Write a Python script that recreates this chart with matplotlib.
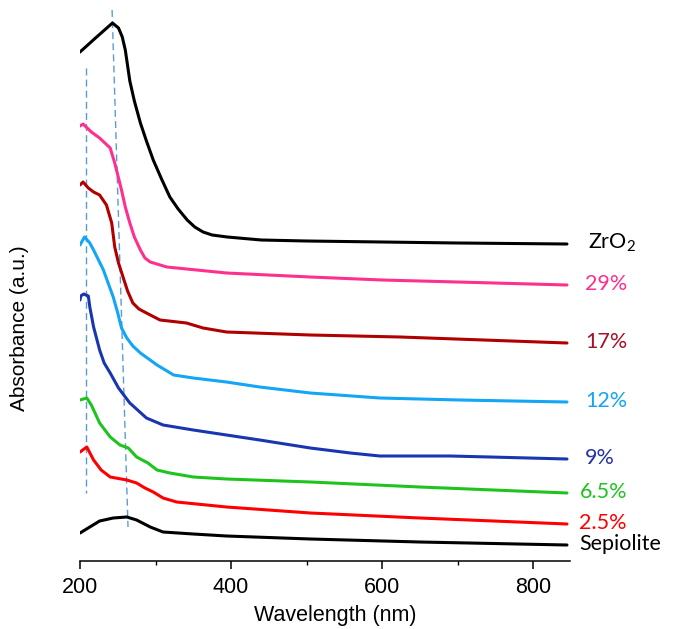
import matplotlib
matplotlib.use("Agg")
import matplotlib.pyplot as plt
import numpy as np

# Espectros (longitud de onda en nm, absorbancia en u.a.)
x_zro2 = [200, 222, 243, 251, 256, 260, 266, 272, 280, 288, 297, 308, 319, 330, 342, 352, 363, 375, 395, 440, 500, 600, 700, 845]
y_zro2 = [5.09, 5.24, 5.38, 5.33, 5.24, 5.11, 4.80, 4.60, 4.38, 4.20, 4.01, 3.82, 3.64, 3.52, 3.41, 3.34, 3.29, 3.26, 3.24, 3.21, 3.20, 3.19, 3.18, 3.17]

x_29 = [200, 204, 215, 226, 240, 246, 250, 255, 260, 266, 272, 280, 286, 293, 315, 394, 505, 600, 700, 845]
y_29 = [4.35, 4.37, 4.29, 4.23, 4.13, 3.98, 3.86, 3.71, 3.54, 3.38, 3.24, 3.11, 3.03, 2.99, 2.94, 2.88, 2.84, 2.81, 2.79, 2.76]

x_17 = [200, 204, 211, 218, 226, 235, 242, 246, 251, 257, 263, 270, 278, 288, 306, 341, 363, 394, 505, 624, 845]
y_17 = [3.76, 3.79, 3.73, 3.69, 3.66, 3.56, 3.38, 3.14, 2.98, 2.84, 2.70, 2.58, 2.52, 2.48, 2.41, 2.38, 2.33, 2.29, 2.26, 2.24, 2.18]

x_12 = [200, 206, 213, 218, 231, 244, 250, 255, 262, 270, 280, 302, 324, 350, 394, 438, 505, 597, 703, 845]
y_12 = [3.16, 3.24, 3.18, 3.11, 2.91, 2.64, 2.48, 2.33, 2.23, 2.15, 2.08, 1.96, 1.86, 1.83, 1.79, 1.74, 1.68, 1.63, 1.61, 1.59]

x_9 = [200, 201, 205, 211, 213, 218, 226, 232, 240, 251, 266, 288, 310, 350, 394, 438, 505, 558, 597, 690, 743, 845]
y_9 = [2.61, 2.65, 2.67, 2.65, 2.54, 2.34, 2.11, 1.98, 1.88, 1.73, 1.58, 1.43, 1.36, 1.31, 1.26, 1.21, 1.13, 1.08, 1.05, 1.05, 1.04, 1.02]

x_65 = [200, 209, 215, 226, 240, 253, 264, 275, 290, 302, 319, 350, 394, 505, 650, 845]
y_65 = [1.61, 1.63, 1.56, 1.38, 1.24, 1.16, 1.13, 1.04, 0.98, 0.91, 0.88, 0.84, 0.82, 0.79, 0.74, 0.68]

x_25 = [200, 209, 218, 228, 240, 262, 275, 286, 297, 310, 328, 394, 505, 650, 845]
y_25 = [1.09, 1.14, 1.01, 0.91, 0.84, 0.81, 0.78, 0.73, 0.69, 0.63, 0.59, 0.54, 0.48, 0.43, 0.37]

x_sep = [200, 213, 226, 244, 262, 275, 293, 310, 350, 394, 505, 650, 845]
y_sep = [0.28, 0.34, 0.40, 0.43, 0.44, 0.41, 0.34, 0.29, 0.27, 0.25, 0.22, 0.19, 0.16]

# Líneas guía discontinuas
guia1_x = [207.5, 207.5]
guia1_y = [4.93, 0.68]
guia2_x = [242.5, 263.6]
guia2_y = [5.51, 0.34]

series = [
    (x_zro2, y_zro2, "ZrO$_2$", "black", "black", 15),
    (x_29, y_29, "29%", "#ff2f8e", "#ff2f8e", 13),
    (x_17, y_17, "17%", "#b00000", "#a5102a", 13),
    (x_12, y_12, "12%", "#12a6f5", "#12a6f5", 13),
    (x_9, y_9, "9%", "#1a35b0", "#2433a8", 13),
    (x_65, y_65, "6.5%", "#1ec41e", "#1ec41e", 9),
    (x_25, y_25, "2.5%", "#ff0000", "#ff0000", 9),
    (x_sep, y_sep, "Sepiolite", "black", "black", 9),
]

plt.rcParams['mathtext.default'] = 'regular'

fig = plt.figure(figsize=(6.73, 6.29), dpi=100)
ax = fig.add_axes([80/673, 68/629, 490/673, 561/629])

ax.plot(guia1_x, guia1_y, color="#5b9bd5", lw=1.0, dashes=(5, 3))
ax.plot(guia2_x, guia2_y, color="#5b9bd5", lw=1.0, dashes=(5, 3))

for x, y, lab, col, tcol, dx in series:
    ax.plot(x, y, color=col, lw=2.2, solid_capstyle='round', solid_joinstyle='round')
    ax.annotate(lab, xy=(x[-1], y[-1]), xytext=(dx, 1), textcoords="offset points",
                ha="left", va="center", color=tcol, fontsize=15.5, family="Lato",
                annotation_clip=False)

ax.set_xlim(200, 849)
ax.set_ylim(0, 5.61)
ax.set_xticks([200, 400, 600, 800])
ax.set_xticks([300, 500, 700], minor=True)
ax.set_yticks([])
for s in ["left", "top", "right"]:
    ax.spines[s].set_visible(False)
ax.spines["bottom"].set_linewidth(1.1)
ax.tick_params(axis="x", which="major", length=6, width=1.1, direction="out", pad=5.5,
               labelsize=15.5)
ax.tick_params(axis="x", which="minor", length=3, width=1.0, direction="out")
for t in ax.get_xticklabels():
    t.set_family("Liberation Sans")

ax.set_xlabel("Wavelength (nm)", fontsize=15.5, family="Liberation Sans")
ax.set_ylabel("Absorbance (a.u.)", fontsize=15, family="Liberation Sans")
ax.xaxis.set_label_coords(0.52, -0.078)
ax.yaxis.set_label_coords(-0.104, 0.415)

fig.savefig("out.png", dpi=100)
